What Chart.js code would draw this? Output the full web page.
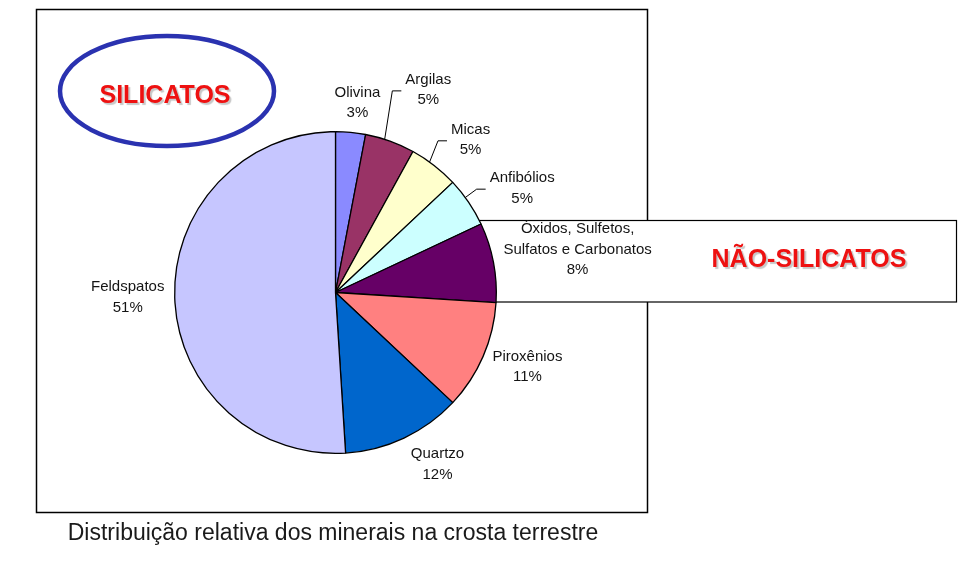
<!doctype html>
<html lang="pt">
  <head>
    <meta charset="utf-8">
    <title>Distribuição relativa dos minerais na crosta terrestre</title>
    <style>
      * {
        margin: 0;
        padding: 0;
      }
      body {
        background: #fff;
      }
      canvas {
        display: block;
      }
    </style>
  </head>
  <body>
    <canvas id="myChart" width="977" height="567"></canvas>
    <script src="https://cdn.jsdelivr.net/npm/chart.js"></script>
    <script>
    // setup
    const categories = [
      ['Olivina'],
      ['Argilas'],
      ['Micas'],
      ['Anfibólios'],
      ['Óxidos, Sulfetos,', 'Sulfatos e Carbonatos'],
      ['Piroxênios'],
      ['Quartzo'],
      ['Feldspatos']
    ];
    const percentages = [3, 5, 5, 5, 8, 11, 12, 51];
    const sliceColors = ['#8a8aff', '#993366', '#ffffcc', '#ccffff', '#660066', '#ff8080', '#0066cc', '#c6c6ff'];

    // label placement, relative to each slice's middle (degrees, px outside the rim)
    const labelNudge = [1.2, 4.8, 3.7, 5, 0.8, -2.2, -5.5, 0.4];
    const labelExtra = [30, 62, 43, 53, 85, 45, 39, 47];
    const hasLeader = [false, true, true, true, false, false, false, false];

    const labelFont = '15px "Liberation Sans", Arial, sans-serif';
    const lineH = 20.5;

    const frameBox = {
      id: 'frameBox',
      beforeDatasetsDraw(chart) {
        const ctx = chart.ctx;
        ctx.save();
        // outer chart frame
        ctx.strokeStyle = '#000';
        ctx.lineWidth = 1.5;
        ctx.strokeRect(36.5, 9.5, 611, 503);
        // NÃO-SILICATOS box (behind the pie)
        ctx.fillStyle = '#fff';
        ctx.fillRect(470, 220, 487, 82);
        ctx.lineWidth = 1.2;
        ctx.strokeRect(470.5, 220.5, 486, 81.5);
        // SILICATOS ellipse
        ctx.strokeStyle = '#2a32b0';
        ctx.lineWidth = 4.5;
        ctx.beginPath();
        ctx.ellipse(167, 91, 107, 55, 0, 0, Math.PI * 2);
        ctx.stroke();
        ctx.restore();
      },
      afterDatasetsDraw(chart) {
        const ctx = chart.ctx;
        const arcs = chart.getDatasetMeta(0).data;
        ctx.save();
        ctx.font = labelFont;
        ctx.fillStyle = '#141414';
        ctx.strokeStyle = '#000';
        ctx.lineWidth = 1;
        ctx.textAlign = 'center';
        ctx.textBaseline = 'middle';
        arcs.forEach((arc, i) => {
          const mid = (arc.startAngle + arc.endAngle) / 2;
          const a = mid + labelNudge[i] * Math.PI / 180;
          const d = arc.outerRadius + labelExtra[i];
          const lx = arc.x + Math.cos(a) * d;
          const ly = arc.y + Math.sin(a) * d;
          const lines = categories[i].concat([percentages[i] + '%']);
          const top = ly - (lines.length - 1) * lineH / 2;
          lines.forEach((t, k) => ctx.fillText(t, lx, top + k * lineH));

          if (hasLeader[i]) {
            const w = ctx.measureText(categories[i][0]).width;
            const left = lx - w / 2;
            const ea = mid - 2 * Math.PI / 180;
            const ex = arc.x + Math.cos(ea) * arc.outerRadius;
            const ey = arc.y + Math.sin(ea) * arc.outerRadius;
            ctx.beginPath();
            ctx.moveTo(left - 4, ly + 1);
            ctx.lineTo(left - 13, ly + 1);
            ctx.lineTo(ex, ey);
            ctx.stroke();
          }
        });

        // group titles
        ctx.font = 'bold 25px "Liberation Sans", Arial, sans-serif';
        ctx.fillStyle = '#ee1111';
        ctx.shadowColor = 'rgba(0,0,0,0.22)';
        ctx.shadowOffsetX = 2;
        ctx.shadowOffsetY = 2;
        ctx.shadowBlur = 1;
        ctx.fillText('SILICATOS', 165, 96);
        ctx.fillText('NÃO-SILICATOS', 809, 260);

        // caption
        ctx.shadowColor = 'transparent';
        ctx.font = '23px "Liberation Sans", Arial, sans-serif';
        ctx.fillStyle = '#1a1a1a';
        ctx.fillText('Distribuição relativa dos minerais na crosta terrestre', 333, 534);
        ctx.restore();
      }
    };

    const data = {
      labels: categories.map(c => c.join(' ')),
      datasets: [{
        data: percentages,
        backgroundColor: sliceColors,
        borderColor: '#000',
        borderWidth: 1.3,
        hoverOffset: 0
      }]
    };

    // config
    const config = {
      type: 'pie',
      data,
      options: {
        responsive: false,
        animation: false,
        layout: {
          padding: { left: 174, right: 480, top: 131, bottom: 113 }
        },
        plugins: {
          legend: { display: false },
          tooltip: { enabled: false }
        }
      },
      plugins: [frameBox]
    };

    // render init block
    const myChart = new Chart(
      document.getElementById('myChart'),
      config
    );
    </script>
  </body>
</html>
